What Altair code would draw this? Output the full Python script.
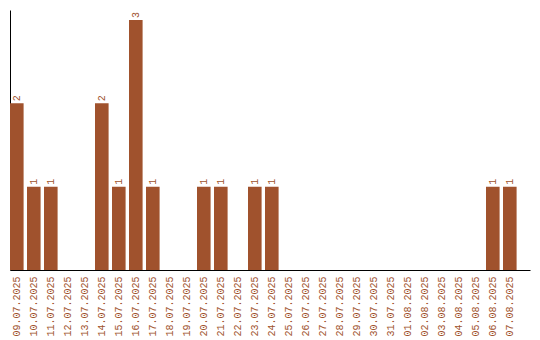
import altair as alt
import pandas as pd

dates = ["09.07.2025", "10.07.2025", "11.07.2025", "12.07.2025", "13.07.2025",
         "14.07.2025", "15.07.2025", "16.07.2025", "17.07.2025", "18.07.2025",
         "19.07.2025", "20.07.2025", "21.07.2025", "22.07.2025", "23.07.2025",
         "24.07.2025", "25.07.2025", "26.07.2025", "27.07.2025", "28.07.2025",
         "29.07.2025", "30.07.2025", "31.07.2025", "01.08.2025", "02.08.2025",
         "03.08.2025", "04.08.2025", "05.08.2025", "06.08.2025", "07.08.2025"]
counts = [2, 1, 1, 0, 0, 2, 1, 3, 1, 0, 0, 1, 1, 0, 1, 1, 0, 0, 0, 0,
          0, 0, 0, 0, 0, 0, 0, 0, 1, 1]

df = pd.DataFrame({"date": dates, "count": counts})
color = "#A0522D"
font = "Liberation Mono"

x = alt.X("date:N", sort=dates,
          scale=alt.Scale(paddingInner=0.2, paddingOuter=0.394, align=0),
          axis=alt.Axis(title=None, ticks=False, labelAngle=270, labelAlign="right",
                        labelBaseline="middle", labelColor=color, labelFont=font,
                        labelFontSize=10, labelPadding=6, domainColor="black",
                        labelOverlap=False))
y = alt.Y("count:Q", scale=alt.Scale(domain=[0, 3.12], nice=False),
          axis=alt.Axis(title=None, ticks=False, labels=False, grid=False,
                        domainColor="black"))

bars = alt.Chart(df).mark_bar(color=color).encode(x=x, y=y)
labels = alt.Chart(df).transform_filter("datum.count > 0").mark_text(
    angle=270, align="left", baseline="middle", dx=2, color=color,
    font=font, fontSize=10
).encode(x=x, y=y, text="count:Q")

chart = alt.layer(bars, labels).properties(
    width=520, height=260,
    autosize=alt.AutoSizeParams(type="none"),
    padding={"left": 10, "top": 10, "right": 10, "bottom": 70},
).configure_view(stroke=None)

chart.save("out.html", embed_options={"renderer": "svg", "actions": False})
